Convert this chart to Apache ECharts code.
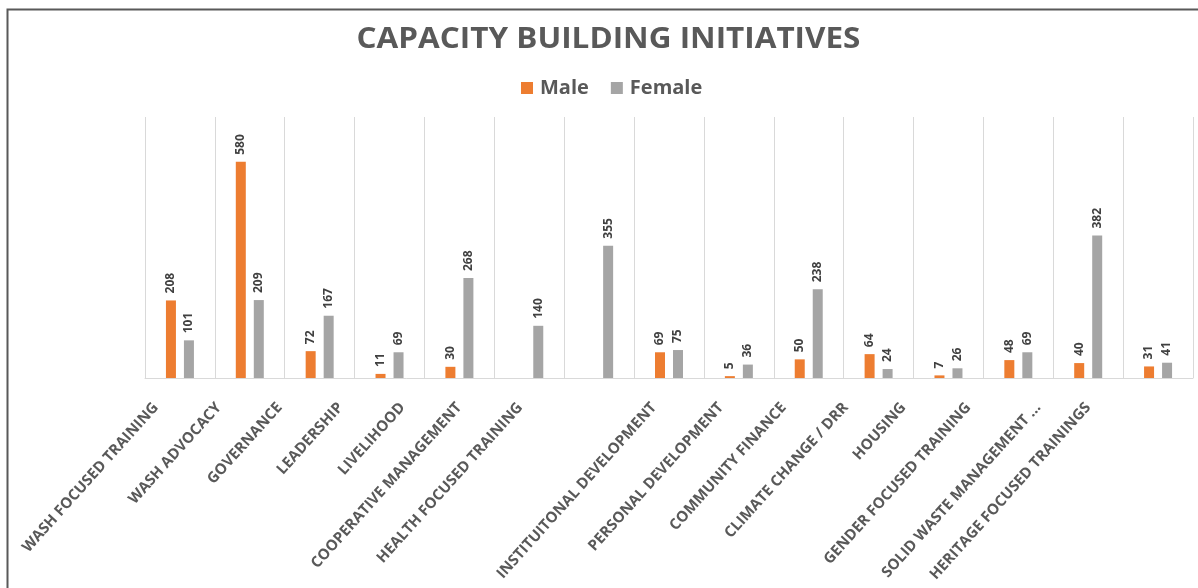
<!DOCTYPE html>
<html>
<head>
<meta charset="utf-8">
<script src="https://cdn.jsdelivr.net/npm/echarts@6/dist/echarts.min.js"></script>
<style>
html,body{margin:0;padding:0;background:#fff;}
#c{width:1198px;height:588px;}
</style>
</head>
<body>
<div id="c"></div>
<script>
const categories = ["WASH FOCUSED TRAINING","WASH ADVOCACY","GOVERNANCE","LEADERSHIP","LIVELIHOOD","COOPERATIVE MANAGEMENT","HEALTH FOCUSED TRAINING","INSTITUITONAL DEVELOPMENT","PERSONAL DEVELOPMENT","COMMUNITY FINANCE","CLIMATE CHANGE / DRR","HOUSING","GENDER FOCUSED TRAINING","SOLID WASTE MANAGEMENT ...","HERITAGE FOCUSED TRAININGS"];
const male = [208,580,72,11,30,null,null,69,5,50,64,7,48,40,31];
const female = [101,209,167,69,268,140,355,75,36,238,24,26,69,382,41];
const seriesNames = ["Male","Female"];
const titleText = "CAPACITY BUILDING INITIATIVES";

// horizontal offset (px) of each axis label's end relative to its category centre, as in the reference
const labelShift = [-24,-31,-40,-49,-57,-70,-79,-15,-18,-25,-33,-45,-50,-50,-70];

const ANG = 48, DROP = 27;
const ca = Math.cos(ANG*Math.PI/180), sa = Math.sin(ANG*Math.PI/180);
const rich = {};
labelShift.forEach((dx, i) => {
  const a = -ca*dx + sa*DROP;      // shift back along text direction
  const b = -sa*dx - ca*DROP;      // shift along "up" normal
  const pr = Math.max(0, a);
  const pt = b < 0 ? -2*b : 0;
  const pb = b > 0 ? 2*b : 0;
  rich['l'+i] = {padding:[pt, pr, pb, 0], fontFamily:'Open Sans', fontWeight:'bold', fontSize:15, color:'#595959'};
});

const chart = echarts.init(document.getElementById('c'), null, {renderer:'canvas'});
const labelCfg = {
  show:true, position:'top', rotate:90, align:'left', verticalAlign:'middle', distance:7,
  fontFamily:'Open Sans', fontWeight:'bold', fontSize:12, color:'#404040'
};
chart.setOption({
  animation:false,
  backgroundColor:'#fff',
  graphic:[{
    type:'rect', shape:{x:7.5,y:9.5,width:1300,height:700},
    style:{fill:'none',stroke:'#595959',lineWidth:2}, silent:true
  },{
    type:'text', x:608.5, y:40, scaleX:1.085, silent:true,
    style:{text:titleText, textAlign:'center', textVerticalAlign:'middle',
      font:'bold 29px "Open Sans"', fill:'#595959'}
  }],
  legend:{
    data:seriesNames, top:73, left:516, itemWidth:12, itemHeight:12, itemGap:22,
    icon:'rect',
    textStyle:{fontFamily:'Open Sans', fontWeight:'bold', fontSize:20, color:'#595959', padding:[0,0,0,2]}
  },
  grid:{left:145, right:5, top:117, bottom:210, containLabel:false},
  xAxis:{
    type:'category', data:categories,
    axisLine:{lineStyle:{color:'#d9d9d9'}},
    axisTick:{show:false},
    splitLine:{show:true, lineStyle:{color:'#d9d9d9'}},
    axisLabel:{rotate:ANG, interval:0, margin:0, rich:rich,
      formatter:(v, i) => '{l'+i+'|'+v+'}',
      fontFamily:'Open Sans', fontWeight:'bold', fontSize:15, color:'#595959'}
  },
  yAxis:{
    type:'value', min:0, max:700, interval:100,
    axisLabel:{show:false}, axisLine:{show:false}, axisTick:{show:false}, splitLine:{show:false}
  },
  series:[
    {name:seriesNames[0], type:'bar', data:male, barWidth:10, barGap:'80%', itemStyle:{color:'#ED7D31'}, label:labelCfg},
    {name:seriesNames[1], type:'bar', data:female, barWidth:10, barGap:'80%', itemStyle:{color:'#A5A5A5'}, label:labelCfg}
  ]
});
</script>
</body>
</html>
